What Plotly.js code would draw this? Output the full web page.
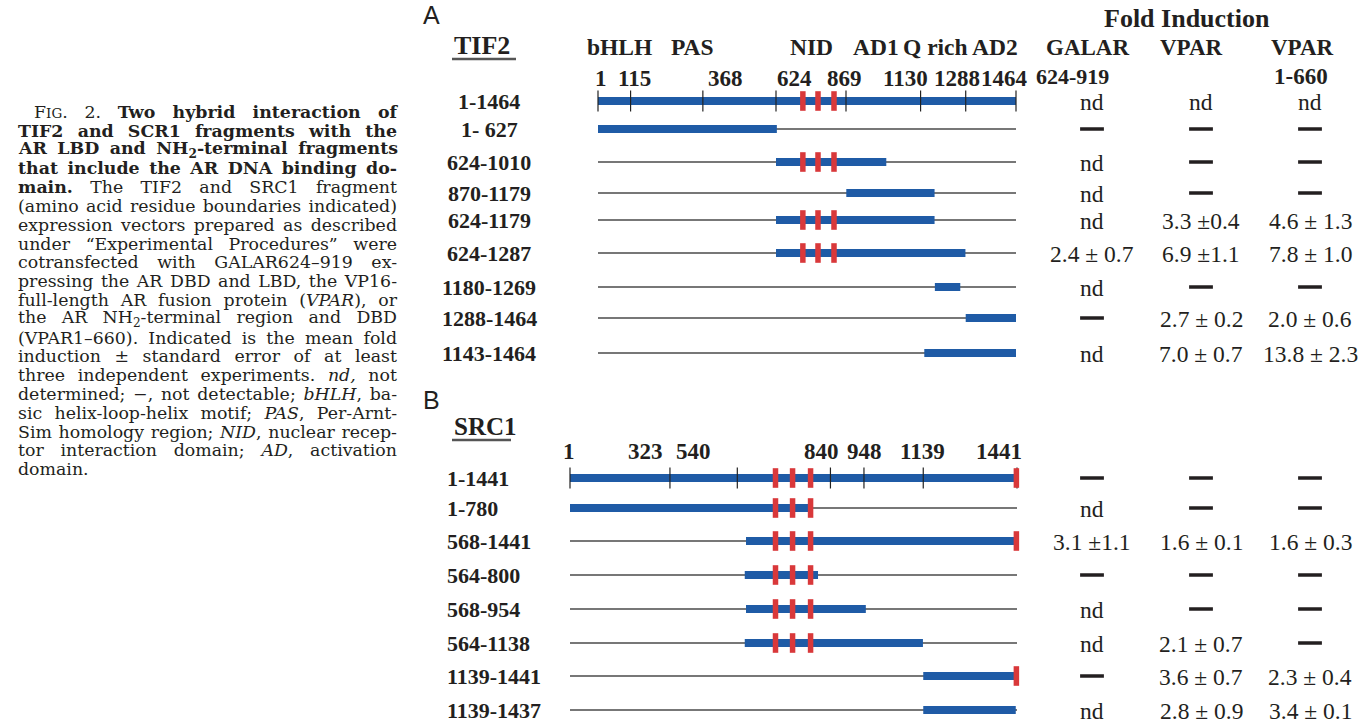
<!DOCTYPE html>
<html><head><meta charset="utf-8">
<script src="https://cdn.plot.ly/plotly-3.0.1.min.js"></script>
<style>html,body{margin:0;padding:0;background:#fff;}#chart{width:1370px;height:728px;}</style>
</head><body><div id="chart"></div>
<script>
// ================= DATA =================
const tif2Fragments = ["1-1464","1- 627","624-1010","870-1179","624-1179","624-1287","1180-1269","1288-1464","1143-1464"];
const tif2Start = [1,1,624,870,624,624,1180,1288,1143];
const tif2End   = [1464,627,1010,1179,1179,1287,1269,1464,1464];
const tif2Length = 1464;
const tif2Boundaries = [1,115,368,624,869,1130,1288,1464];
const tif2DomainNames = ["bHLH","PAS","NID","AD1","Q rich","AD2"];
const tif2NIDMotifs = [718,771,827];
const tif2GALAR    = ["nd","−","nd","nd","nd","2.4 ± 0.7","nd","−","nd"];
const tif2VPAR     = ["nd","−","−","−","3.3 ±0.4","6.9 ±1.1","−","2.7 ± 0.2","7.0 ± 0.7"];
const tif2VPAR1660 = ["nd","−","−","−","4.6 ± 1.3","7.8 ± 1.0","−","2.0 ± 0.6","13.8 ± 2.3"];

const src1Fragments = ["1-1441","1-780","568-1441","564-800","568-954","564-1138","1139-1441","1139-1437"];
const src1Start = [1,1,568,564,568,564,1139,1139];
const src1End   = [1441,780,1441,800,954,1138,1441,1437];
const src1Length = 1441;
const src1Boundaries = [1,323,540,840,948,1139,1441];
const src1NIDMotifs = [663,718,776,1439];
const src1GALAR    = ["−","nd","3.1 ±1.1","−","nd","nd","−","nd"];
const src1VPAR     = ["−","−","1.6 ± 0.1","−","−","2.1 ± 0.7","3.6 ± 0.7","2.8 ± 0.9"];
const src1VPAR1660 = ["−","−","1.6 ± 0.3","−","−","−","2.3 ± 0.4","3.4 ± 0.1"];

const foldTitle = "Fold Induction";
const foldColumnsLine1 = ["GALAR","VPAR","VPAR"];
const foldColumnsLine2 = ["624-919","","1-660"];

const captionLines = [
 "F<span style='font-size:0.78em'>IG</span>. 2. <b>Two hybrid interaction of</b>",
 "<b>TIF2 and SCR1 fragments with the</b>",
 "<b>AR LBD and NH<sub>2</sub>-terminal fragments</b>",
 "<b>that include the AR DNA binding do-</b>",
 "<b>main.</b> The TIF2 and SRC1 fragment",
 "(amino acid residue boundaries indicated)",
 "expression vectors prepared as described",
 "under “Experimental Procedures” were",
 "cotransfected with GALAR624–919 ex-",
 "pressing the AR DBD and LBD, the VP16-",
 "full-length AR fusion protein (<i>VPAR</i>), or",
 "the AR NH<sub>2</sub>-terminal region and DBD",
 "(VPAR1–660). Indicated is the mean fold",
 "induction ± standard error of at least",
 "three independent experiments. <i>nd,</i> not",
 "determined; −, not detectable; <i>bHLH</i>, ba-",
 "sic helix-loop-helix motif; <i>PAS</i>, Per-Arnt-",
 "Sim homology region; <i>NID</i>, nuclear recep-",
 "tor interaction domain; <i>AD</i>, activation",
 "domain."
];

// ================= GEOMETRY / STYLE =================
const W = 1370, H = 728;
const A_px0 = 598, A_px1 = 1016, B_px0 = 570, B_px1 = 1017;
const rowPxA = [101,129,162,193,220,253,287,318,353];
const rowPxB = [478,508,541,575,609,643,676,710];
const COL0_px = 1092, COL_dx = 109;
const SERIF = "Liberation Serif";
const CAPF = "DejaVu Serif";
const INK = "#231f20", BLUE = "#1f5ba6", RED = "#d9383a", THIN = "#4a4a4a";

function aaRange(p0, p1, a0, a1) { const k = (p1 - p0) / (a1 - a0); return [a0 - p0 / k, a0 + (W - p0) / k]; }

const annotations = [];
const shapes = [];
// y always in page pixels (yaxis is a pixel scale); x in page pixels unless xref given
function txt(text, x, y, size, opt) {
  opt = opt || {};
  annotations.push({text, x: opt.xref ? x : x / W, y: y,
    xref: opt.xref || 'paper', yref: 'y', showarrow: false,
    xanchor: opt.anchor || 'center', yanchor: 'middle', xshift: opt.xshift || 0,
    font: {family: opt.family || SERIF, size, color: INK}});
}

// caption (first, so annotation indices 0..n-1)
const CAP_LEFT = 16, CAP_RIGHT = 395, CAP_INDENT = 16, CAP_Y0 = 112, CAP_DY = 18.8, CAP_SIZE = 16;
captionLines.forEach((l, i) => txt(l, i === 0 ? CAP_LEFT + CAP_INDENT : CAP_LEFT, CAP_Y0 + i * CAP_DY, CAP_SIZE, {anchor: 'left', family: CAPF}));

// panel letters & titles
txt("A", 421, 15, 25, {anchor: 'left', family: "Liberation Sans"});
txt("B", 421, 400, 25, {anchor: 'left', family: "Liberation Sans"});
txt("<b>TIF2</b>", 452, 45, 26, {anchor: 'left'});
txt("<b>SRC1</b>", 452, 426, 25, {anchor: 'left'});
shapes.push({type: 'line', xref: 'paper', yref: 'y', x0: 452 / W, x1: 516 / W, y0: 59, y1: 59, line: {color: '#555', width: 2.5}});
shapes.push({type: 'line', xref: 'paper', yref: 'y', x0: 452 / W, x1: 511 / W, y0: 440, y1: 440, line: {color: '#555', width: 2.5}});

// domain names (panel A)
const domainPx = [619, 692, 811, 876, 935, 995];
tif2DomainNames.forEach((d, i) => txt("<b>" + d + "</b>", domainPx[i], 47, 23.5));

// boundary numbers above the full-length constructs
const tif2NumShift = [3, 4, 23, 18, -2, -15, -9, -12];
tif2Boundaries.forEach((b, i) => txt("<b>" + b + "</b>", b, 78, 23, {xref: 'x', xshift: tif2NumShift[i]}));
const src1NumShift = [-1, -24, -44, -9, 1, -1, -18];
src1Boundaries.forEach((b, i) => txt("<b>" + b + "</b>", b, 451, 23, {xref: 'x2', xshift: src1NumShift[i]}));

// fold induction header
txt("<b>" + foldTitle + "</b>", 1, 18, 26, {xref: 'x3', xshift: -14});
const head1Shift = [-5, -10, -8], head2Shift = [-20, 0, -9];
foldColumnsLine1.forEach((c, i) => txt("<b>" + c + "</b>", i, 47, 23, {xref: 'x3', xshift: head1Shift[i]}));
foldColumnsLine2.forEach((c, i) => { if (c) txt("<b>" + c + "</b>", i, 76, i === 0 ? 22 : 23, {xref: 'x3', xshift: head2Shift[i]}); });

// row labels
tif2Fragments.forEach((f, i) => txt("<b>" + f + "</b>", 489, rowPxA[i], 22));
src1Fragments.forEach((f, i) => txt("<b>" + f + "</b>", 445, rowPxB[i], 22, {anchor: 'left'}));

// fold-induction values (text through the column axis x3); "−" drawn as marks below
function tableText(cols, rows) {
  cols.forEach((col, c) => col.forEach((v, r) => {
    if (v !== "−") txt(v, c, rows[r] + 1, 23.5, {xref: 'x3'});
  }));
}
tableText([tif2GALAR, tif2VPAR, tif2VPAR1660], rowPxA);
tableText([src1GALAR, src1VPAR, src1VPAR1660], rowPxB);

// ================= TRACES =================
function panelTraces(start, end, len, bounds, motifs, rows, xa) {
  const tx = [], ty = [], bx = [], by = [], mx = [], my = [];
  start.forEach((s, i) => {
    tx.push(1, len, null); ty.push(rows[i], rows[i], null);
    bx.push(s, end[i], null); by.push(rows[i], rows[i], null);
    motifs.forEach(m => { if (m >= s && m <= end[i]) { mx.push(m); my.push(rows[i]); } });
  });
  return [
    {type: 'scatter', mode: 'lines', x: tx, y: ty, xaxis: xa, yaxis: 'y', line: {color: THIN, width: 1.3}, hoverinfo: 'skip'},
    {type: 'scatter', mode: 'lines', x: bx, y: by, xaxis: xa, yaxis: 'y', line: {color: BLUE, width: 8}, hoverinfo: 'skip'},
    {type: 'scatter', mode: 'markers', x: bounds, y: bounds.map(() => rows[0]), xaxis: xa, yaxis: 'y',
      marker: {symbol: 'line-ns', size: 15, line: {color: '#222', width: 1.2}}, hoverinfo: 'skip'},
    {type: 'scatter', mode: 'markers', x: mx, y: my, xaxis: xa, yaxis: 'y',
      marker: {symbol: 'line-ns', size: 14, line: {color: RED, width: 5.5}}, hoverinfo: 'skip'}
  ];
}
function dashTraces(cols, rows) {
  const dx = [], dy = [];
  cols.forEach((col, c) => col.forEach((v, r) => { if (v === "−") { dx.push(c); dy.push(rows[r]); } }));
  return [{type: 'scatter', mode: 'markers', x: dx, y: dy, xaxis: 'x3', yaxis: 'y',
    marker: {symbol: 'line-ew', size: 17, line: {color: INK, width: 3.5}}, hoverinfo: 'skip'}];
}

const data = [].concat(
  panelTraces(tif2Start, tif2End, tif2Length, tif2Boundaries, tif2NIDMotifs, rowPxA, 'x'),
  panelTraces(src1Start, src1End, src1Length, src1Boundaries, src1NIDMotifs, rowPxB, 'x2'),
  dashTraces([tif2GALAR, tif2VPAR, tif2VPAR1660], rowPxA),
  dashTraces([src1GALAR, src1VPAR, src1VPAR1660], rowPxB)
);

const layout = {
  width: W, height: H, margin: {l: 0, r: 0, t: 0, b: 0}, paper_bgcolor: '#fff', plot_bgcolor: '#fff', showlegend: false,
  xaxis: {domain: [0, 1], range: aaRange(A_px0, A_px1, 1, tif2Length), visible: false},
  xaxis2: {domain: [0, 1], range: aaRange(B_px0, B_px1, 1, src1Length), overlaying: 'x', anchor: 'y', visible: false},
  xaxis3: {domain: [0, 1], range: [-COL0_px / COL_dx, (W - COL0_px) / COL_dx], overlaying: 'x', anchor: 'y', visible: false},
  yaxis: {domain: [0, 1], range: [H, 0], visible: false},
  annotations, shapes
};

const gd = document.getElementById('chart');
const capText = i => gd.querySelector('.annotation[data-index="' + i + '"] text.annotation-text');
const capTarget = i => CAP_RIGHT - (i === 0 ? CAP_LEFT + CAP_INDENT : CAP_LEFT);

Plotly.newPlot(gd, data, layout, {staticPlot: true, responsive: false}).then(() => {
  // fit caption font so that the widest justified line just fits the column
  let ratio = 0;
  captionLines.forEach((l, i) => {
    if (i === captionLines.length - 1) return;
    const t = capText(i); if (!t) return;
    ratio = Math.max(ratio, t.getComputedTextLength() / capTarget(i));
  });
  const size = Math.min(18.5, CAP_SIZE / (ratio || 1) * 0.985);
  const upd = {};
  captionLines.forEach((l, i) => { upd['annotations[' + i + '].font.size'] = size; });
  return Plotly.relayout(gd, upd);
}).then(() => {
  // justify lines (all but the last), keeping the left edge fixed
  captionLines.forEach((l, i) => {
    if (i === captionLines.length - 1) return;
    const t = capText(i); if (!t) return;
    const b0 = t.getBBox();
    const n = (t.textContent.match(/ /g) || []).length;
    if (!n) return;
    const ws = (capTarget(i) - t.getComputedTextLength()) / n;
    t.style.wordSpacing = ws + 'px';
    const b1 = t.getBBox();
    const prev = t.getAttribute('transform') || '';
    t.setAttribute('transform', prev + ' translate(' + (b0.x - b1.x) + ',0)');
  });
});
</script></body></html>
